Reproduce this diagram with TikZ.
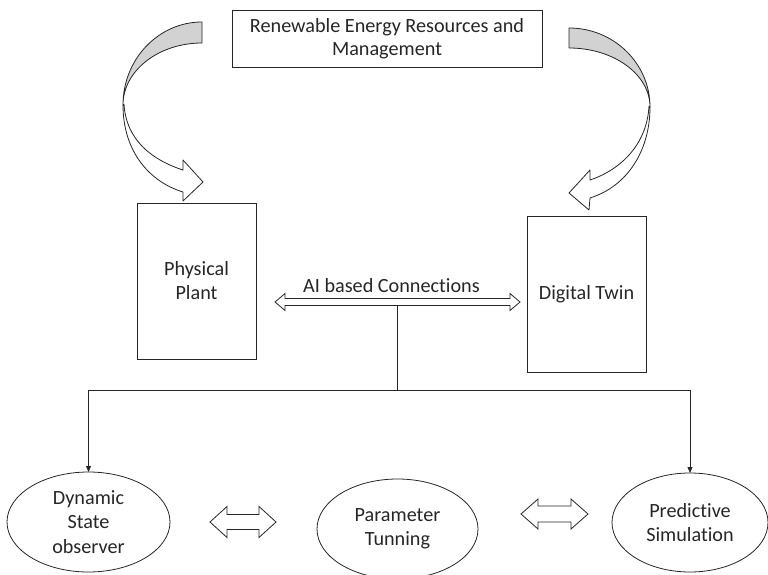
\documentclass[tikz,border=0pt]{standalone}
\usepackage{fontspec}
\setmainfont[Ligatures=CommonOff]{Carlito}
\usetikzlibrary{shapes.geometric,calc,arrows.meta}
\definecolor{ink}{HTML}{262626}
\definecolor{bandgray}{HTML}{D2D2D2}

% hollow block arrow with a head at both ends:
% #1 left tip, #2 right tip, #3 head length, #4 half head width, #5 half shaft width
\newcommand\fatdbl[5]{%
  \draw[fat] (#1) -- ($(#1)+(#3,-#4)$) -- ($(#1)+(#3,-#5)$) -- ($(#2)+(-#3,-#5)$)
    -- ($(#2)+(-#3,-#4)$) -- (#2) -- ($(#2)+(-#3,#4)$) -- ($(#2)+(-#3,#5)$)
    -- ($(#1)+(#3,#5)$) -- ($(#1)+(#3,#4)$) -- cycle;}

\begin{document}
\begin{tikzpicture}[x=1pt,y=-1pt,color=ink,
  box/.style={draw,rectangle,inner sep=0pt,outer sep=0pt,line width=0.9pt,
    align=center,font=\fontsize{20.2}{24}\selectfont},
  oval/.style={draw,ellipse,inner sep=0pt,outer sep=0pt,line width=0.8pt,
    align=center,font=\fontsize{20.2}{24.5}\selectfont},
  band/.style={draw,line width=0.8pt,line join=round},
  fat/.style={draw,fill=white,line width=0.8pt,line join=miter},
  wire/.style={line width=0.8pt},
  drop/.style={wire,-{Triangle[length=6pt,width=5pt]}}]

\useasboundingbox (0,0) rectangle (768,575);

% blocks
\node[box,minimum width=310pt,minimum height=57pt,font=\fontsize{20.2}{23}\selectfont]
  (rer) at (387,38.5) {Renewable Energy Resources and\\Management};
\node[box,minimum width=119pt,minimum height=156pt] (pp) at (196.5,281) {Physical\\Plant};
\node[box,minimum width=119pt,minimum height=156pt] (dt) at (586.5,294) {Digital Twin};

\node[oval,minimum width=163pt,minimum height=100pt] (dso) at (88.5,522) {Dynamic\\State\\observer};
\node[oval,minimum width=161pt,minimum height=100pt] (ptn) at (397.5,529) {Parameter\\Tunning};
\node[oval,minimum width=156pt,minimum height=99pt] (psim) at (690,522.5) {Predictive\\Simulation};

% curved band arrow on the left (grey back, white front with head)
\draw[band,fill=bandgray] (202,22) .. controls (158.4,22) and (123,59.2) .. (123,105)
  .. controls (123,70.8) and (158.4,43) .. (202,43) -- cycle;
\draw[band,fill=white] (123,105) .. controls (123,152) and (150,182) .. (183,192)
  -- (183,201) -- (203,182) -- (183,160) -- (183,170)
  .. controls (152,160) and (126,140) .. (124,104) -- cycle;

% curved band arrow on the right
\draw[band,fill=bandgray] (569,28) .. controls (613.7,28) and (650,63.4) .. (650,107)
  .. controls (650,74.4) and (613.7,48) .. (569,48) -- cycle;
\draw[band,fill=white] (650,107) .. controls (650,150) and (628,186) .. (590,198)
  -- (589,210) -- (569,193) -- (590,170) -- (590,180)
  .. controls (620,170) and (647,145) .. (649,106) -- cycle;

% AI link between plant and twin
\coordinate (aiL) at (275,302);
\coordinate (aiR) at (520,302);
\fatdbl{aiL}{aiR}{10}{8.5}{3.5}
\node[anchor=base,inner sep=0pt,font=\fontsize{20.2}{24}\selectfont] (ailabel) at (391.5,292) {AI based Connections};

% distribution to the three functions
\coordinate (hub) at (397.5,390);
\draw[wire] ($(aiL)!0.5!(aiR)+(0,3.5)$) -- (hub);
\draw[drop] (hub) -| (dso.north);
\draw[drop] (hub) -| (psim.north);

% exchanges between the functions
\coordinate (lL) at (210,522);
\coordinate (lR) at (276,522);
\fatdbl{lL}{lR}{17}{15.5}{7.5}
\coordinate (rL) at (521,514);
\coordinate (rR) at (588,514);
\fatdbl{rL}{rR}{17}{15}{8}
\end{tikzpicture}
\end{document}
